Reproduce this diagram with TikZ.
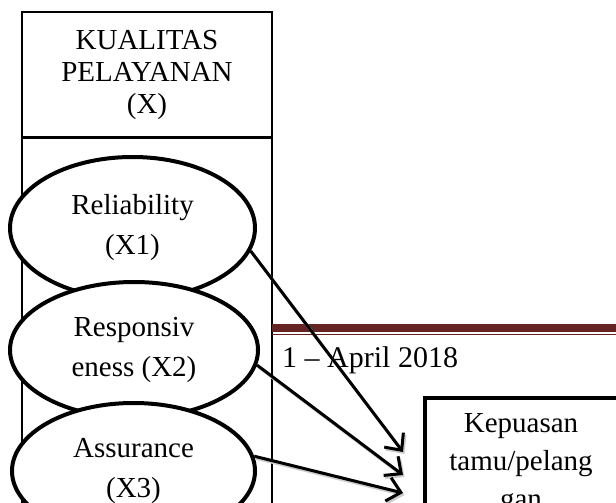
\documentclass[tikz,border=0pt]{standalone}
\usepackage{fontspec}
\setmainfont{Liberation Serif}
\usetikzlibrary{shapes.geometric,arrows.meta}
\definecolor{maroon}{RGB}{99,36,35}
\tikzset{
  thinbox/.style={draw, line width=1.3pt, inner sep=0pt},
  ell/.style={draw, ellipse, fill=white, line width=4pt, align=center, inner sep=0pt,
    font=\fontsize{29}{40}\selectfont},
  arr/.style={line width=3pt, -{Straight Barb[length=13pt,width=24pt]},
    preaction={draw=black!20, line width=3pt, transform canvas={shift={(1.5pt,-2pt)}}}},
}
\begin{document}
\begin{tikzpicture}[x=1pt,y=-1pt]
\useasboundingbox (0,0) rectangle (616,503);
\clip (0,0) rectangle (616,503);
\fill[white] (0,0) rectangle (616,503);
% left frame
\node (title) [thinbox, minimum width=250pt, minimum height=125pt, align=center,
  font=\fontsize{29}{32}\selectfont] at (147,74.5) {KUALITAS\\PELAYANAN\\(X)};
\node (body) [thinbox, anchor=north, minimum width=250pt, minimum height=420pt] at (title.south) {};
% header bar and date
\fill[maroon] (272,324) rectangle (616,332);
\fill[maroon] (272,334) rectangle (616,335.4);
\node (date) [anchor=base west, inner sep=0pt, font=\fontsize{30}{36}\selectfont] at (282,367) {1 – April 2018};
% ellipses
\node (e1) [ell, minimum width=245pt, minimum height=142pt] at (132.5,228) {Reliability\\(X1)};
\node (e2) [ell, minimum width=248pt, minimum height=136pt] at (134,350) {Responsiv\\eness (X2)};
\node (e3) [ell, minimum width=243pt, minimum height=136pt] at (133.5,471) {Assurance\\(X3)};
% target box
\node (kp) [draw, line width=4pt, minimum width=196pt, minimum height=180pt, anchor=north west, inner sep=0pt] at (423,396) {};
\node (kptext) [anchor=north, inner sep=0pt, align=center, font=\fontsize{29}{38}\selectfont] at (521,413.8) {Kepuasan\\tamu/pelang\\gan};
% arrow tips
\coordinate (t1) at (403,452);
\coordinate (t2) at (403,475);
\coordinate (t3) at (403,493);
\draw[arr] (e1.-11) -- (t1);
\draw[arr] (e2.-7) -- (t2);
\draw[arr] (e3.7) -- (t3);
\end{tikzpicture}
\end{document}
